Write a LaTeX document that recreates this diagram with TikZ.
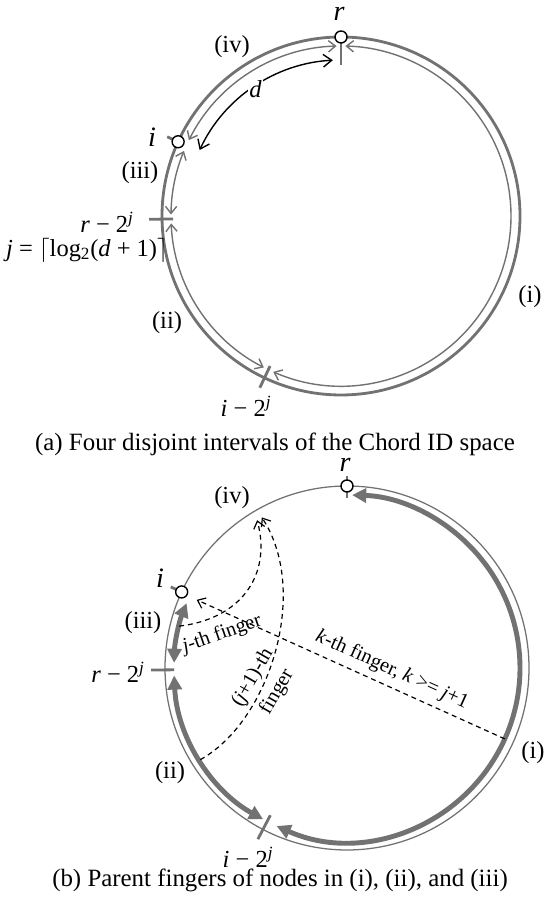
\documentclass[tikz,border=0pt]{standalone}
\usepackage{fontspec}
\setmainfont{Liberation Serif}
\usetikzlibrary{arrows.meta,calc}
\definecolor{ring}{HTML}{727272}

\begin{document}
\begin{tikzpicture}[
  x=0.025cm, y=0.025cm,
  every node/.style={font=\fontsize{17.4}{20}\selectfont},
  biglbl/.style={font=\fontsize{20}{24}\selectfont\itshape, inner sep=0pt},
  flab/.style={font=\fontsize{14.5}{20}\selectfont, inner sep=0pt},
  idnode/.style={circle, draw=black, line width=1pt, fill=white, inner sep=0pt, minimum size=0.3cm},
  tick/.style={draw=ring, line width=2pt},
  intv/.style={draw=ring, line width=1pt, {Straight Barb[length=5pt,width=8pt]}-{Straight Barb[length=5pt,width=8pt]}},
  thickintv/.style={draw=ring, line width=3.5pt, {Triangle[length=10pt,width=10pt]}-{Triangle[length=10pt,width=10pt]}},
  finger/.style={draw=black, line width=0.85pt, dash pattern=on 3.5pt off 2.8pt, -{Straight Barb[length=5pt,width=8pt]}}
]
  \useasboundingbox (0,0) rectangle (548,911);
  \coordinate (ca) at (341,695);
  \coordinate (cb) at (347,243);

  % (a) ring and the four intervals
  \draw[draw=ring, line width=2pt] (ca) circle[radius=179];
  \foreach \a/\b in {91.5/153.5, 157.5/179.5, 182.5/243, 246.5/448.5} {
    \draw[intv] ([shift={(ca)}]\a:170) arc[start angle=\a, end angle=\b, radius=170];
  }
  \draw[tick] ([shift={(ca)}]90:179) -- ([shift={(ca)}]90:151);
  \draw[tick] ([shift={(ca)}]155.5:179) -- ([shift={(ca)}]155.5:191);
  \draw[tick] ([shift={(ca)}]181:168) -- ([shift={(ca)}]181:192);
  \draw[tick] ([shift={(ca)}]244.7:166) -- ([shift={(ca)}]244.7:190);
  \node[idnode] (ra) at ([shift={(ca)}]90:179) {};
  \node[idnode] (ia) at ([shift={(ca)}]155.5:179) {};

  % distance d
  \draw[black, line width=1pt, {Straight Barb[length=6pt,width=9pt]}-{Straight Barb[length=6pt,width=9pt]}]
    ([shift={(ca)}]93:156) arc[start angle=93, end angle=155, radius=156];
  \node[fill=white, inner sep=1pt, font=\fontsize{17.4}{20}\selectfont\itshape] (da) at ([shift={(ca)}]124:153) {d};

  % (a) labels
  \node[biglbl] (rla) at (339,897) {r};
  \node[biglbl] (ila) at (152,774) {i};
  \node (iva) at (232,864) {(iv)};
  \node (iiia) at (140,738) {(iii)};
  \node (iia) at (167,588) {(ii)};
  \node (ja) at (530,614) {(i)};
  \node (rja) at (107,689) {\textit{r} − 2\textsuperscript{\textit{j}}};
  \node (jdef) at (87,661) {\textit{j} = $\lceil$log\textsubscript{2}(\textit{d} + 1)$\rceil$};
  \node (ija) at (246,505) {\textit{i} − 2\textsuperscript{\textit{j}}};
  \node[font=\fontsize{17.7}{21}\selectfont] (capa) at (275,467) {(a) Four disjoint intervals of the Chord ID space};

  % (b) ring and the parent intervals
  \draw[draw=ring, line width=0.9pt] (cb) circle[radius=182];
  \foreach \a/\b in {158/178.3, 182.5/241, 246/448.3} {
    \draw[thickintv] ([shift={(cb)}]\a:173) arc[start angle=\a, end angle=\b, radius=173];
  }
  \draw[tick] ([shift={(cb)}]90:170) -- ([shift={(cb)}]90:192);
  \draw[tick] ([shift={(cb)}]155.3:182) -- ([shift={(cb)}]155.3:194);
  \draw[tick] ([shift={(cb)}]180.6:173) -- ([shift={(cb)}]180.6:196);
  \draw[tick] ([shift={(cb)}]242.5:166) -- ([shift={(cb)}]242.5:193);
  \node[idnode] (rb) at ([shift={(cb)}]90:182) {};
  \node[idnode] (ib) at ([shift={(cb)}]155.3:182) {};

  % fingers
  \coordinate (jfs) at ([shift={(cb)}]166:173);
  \coordinate (jfe) at ([shift={(cb)}]121.3:173);
  \coordinate (j1s) at ([shift={(cb)}]212:173);
  \coordinate (j1e) at ([shift={(cb)}]119.5:173);
  \coordinate (kfs) at ([shift={(cb)}]335.8:173);
  \coordinate (kfe) at ([shift={(cb)}]155.6:165);
  \draw[finger] (jfs) .. controls (240,292) and (272,335) .. (jfe);
  \draw[finger] (j1s) .. controls (270,190) and (310,320) .. (j1e);
  \draw[finger] (kfs) -- (kfe);
  \node[flab, rotate=19] (jfl) at (222,277) {\textit{j}-th finger};
  \node[flab, rotate=60, align=center] (j1l) at (265,226) {(\textit{j}+1)-th\\finger};
  \node[flab, rotate=-24.3] (kfl) at (392,241) {\textit{k}-th finger, \textit{k} >= \textit{j}+1};

  % (b) labels
  \node[biglbl] (rlb) at (345,446) {r};
  \node[biglbl] (ilb) at (160,333) {i};
  \node (ivb) at (232,413) {(iv)};
  \node (iiib) at (143,288) {(iii)};
  \node (iib) at (170,138) {(ii)};
  \node (jb) at (533,158) {(i)};
  \node (rjb) at (118,239) {\textit{r} − 2\textsuperscript{\textit{j}}};
  \node (ijb) at (248,54) {\textit{i} − 2\textsuperscript{\textit{j}}};
  \node[font=\fontsize{17.7}{21}\selectfont] (capb) at (280,31) {(b) Parent fingers of nodes in (i), (ii), and (iii)};
\end{tikzpicture}
\end{document}
